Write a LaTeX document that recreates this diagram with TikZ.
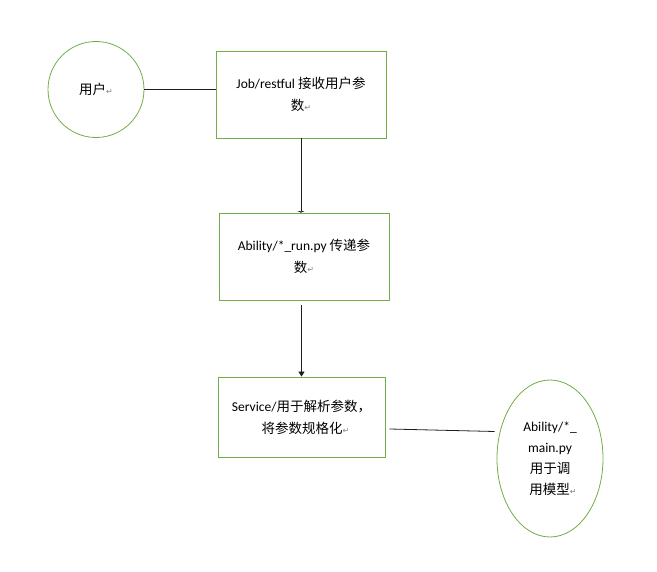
\documentclass[tikz,border=0pt]{standalone}
\usepackage{fontspec}
\setmainfont{Carlito}
\newfontfamily\cjk{Noto Sans CJK SC}
\newfontfamily\symfont{DejaVu Sans}
\usetikzlibrary{shapes.geometric,arrows.meta}
\definecolor{shapegreen}{RGB}{112,173,71}
\definecolor{linegray}{RGB}{30,30,30}
\newcommand\retmark{{\symfont\color{gray}\fontsize{8}{8}\selectfont ↵}}

\begin{document}
\begin{tikzpicture}[x=1pt,y=-1pt,
    every node/.style={font=\fontsize{13.5}{22}\selectfont,align=center,inner sep=0pt},
    stepbox/.style={draw=shapegreen,line width=0.8pt,rectangle},
    roundbox/.style={draw=shapegreen,line width=0.8pt,ellipse},
    link/.style={draw=linegray,line width=0.8pt}]
    \useasboundingbox (0,0) rectangle (657,572);
    % nodes
    \node(user)[roundbox,minimum size=96pt] at (96,89.5) {{\cjk 用户}\retmark};
    \node(job)[stepbox,minimum width=170pt,minimum height=87pt] at (301,94.5)
        {Job/restful {\cjk 接收用户参}\\{\cjk 数}\retmark};
    \node(run)[stepbox,minimum width=170pt,minimum height=87pt] at (304,256.5)
        {Ability/*\_run.py {\cjk 传递参}\\{\cjk 数}\retmark};
    \node(service)[stepbox,minimum width=167pt,minimum height=80pt] at (301.5,417)
        {Service/{\cjk 用于解析参数，}\\\hspace*{8pt}{\cjk 将参数规格化}\retmark};
    \node(model)[roundbox,minimum width=106pt,minimum height=157pt,font=\fontsize{13.5}{21}\selectfont]
        at (550,458.5) {Ability/*\_\\main.py\\{\cjk 用于调}\\\hspace*{6pt}{\cjk 用模型}\retmark};
    % connectors
    \draw[link] (user.east) -- ([yshift=5pt]job.west);
    \draw[link,-{Triangle[length=1.5pt,width=7pt]}] (job.south) -- (run.north -| job.south);
    \coordinate(b) at ([yshift=-5pt]run.south -| service.north);
    \draw[link,-{Triangle[length=5pt,width=6pt]}] (b) -- (service.north);
    \coordinate(c) at ([xshift=4pt,yshift=-12pt]service.east);
    \coordinate(d) at ([xshift=-2pt,yshift=27pt]model.west);
    \draw[link] (c) -- (d);
\end{tikzpicture}
\end{document}
